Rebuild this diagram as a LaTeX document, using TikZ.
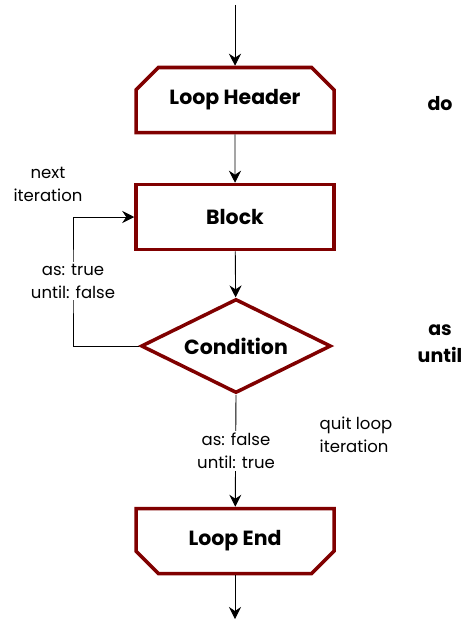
\documentclass[tikz,border=0pt]{standalone}
\usepackage{fontspec}
\setmainfont{Poppins}
\usetikzlibrary{shapes.misc,shapes.geometric,arrows.meta}

\begin{document}
\begin{tikzpicture}[x=1pt,y=-1pt,
    every node/.style={font=\fontsize{16.5}{23}\selectfont,align=center},
    flowbox/.style={draw=red!50!black,line width=3.5pt,minimum width=198pt,minimum height=65pt,inner sep=0,
      font=\fontsize{20.5}{23}\selectfont\bfseries},
    headbox/.style={flowbox,chamfered rectangle,chamfered rectangle xsep=12pt,chamfered rectangle ysep=12pt,
      chamfered rectangle corners={north west,north east}},
    endbox/.style={flowbox,chamfered rectangle,chamfered rectangle xsep=12pt,chamfered rectangle ysep=12pt,
      chamfered rectangle corners={south west,south east}},
    condbox/.style={flowbox,diamond,aspect=2,minimum width=190pt,minimum height=94pt},
    flow/.style={-{Stealth[length=12pt,width=12pt,inset=4pt]},line width=0.9pt},
    keyword/.style={font=\fontsize{19}{27}\selectfont\bfseries}]
        \useasboundingbox (0,0) rectangle (471,626);
        \coordinate (start) at (235,5);
        \node[headbox] (header) at (235,100) {Loop Header};
        \node[flowbox] (block) at (235,217) {Block};
        \node[condbox] (cond) at (236,346) {Condition};
        \node[endbox] (loopend) at (235,541) {Loop End};
        \coordinate (stop) at (235,619);
        \coordinate (back) at (73,281);
        \draw[flow] (start) -- (header);
        \draw[flow] (header) -- (block);
        \draw[flow] (block) -- (cond);
        \draw[flow] (cond.west) -| (back) |- (block.west);
        \draw[flow] (cond.south) -- (loopend);
        \draw[flow] (loopend) -- (stop);
        \node[fill=white,inner sep=2pt] (truelabel) at (back) {as: true\\until: false};
        \node (nextlabel) at (48,184) {next\\iteration};
        \node[fill=white,inner sep=2pt] (falselabel) at (236,451) {as: false\\until: true};
        \node[align=left] (quitlabel) at (356,435) {quit loop\\iteration};
        \node[keyword] (dolabel) at (440,104) {do};
        \node[keyword] (aslabel) at (440,344) {as\\until};
      \end{tikzpicture}
\end{document}
